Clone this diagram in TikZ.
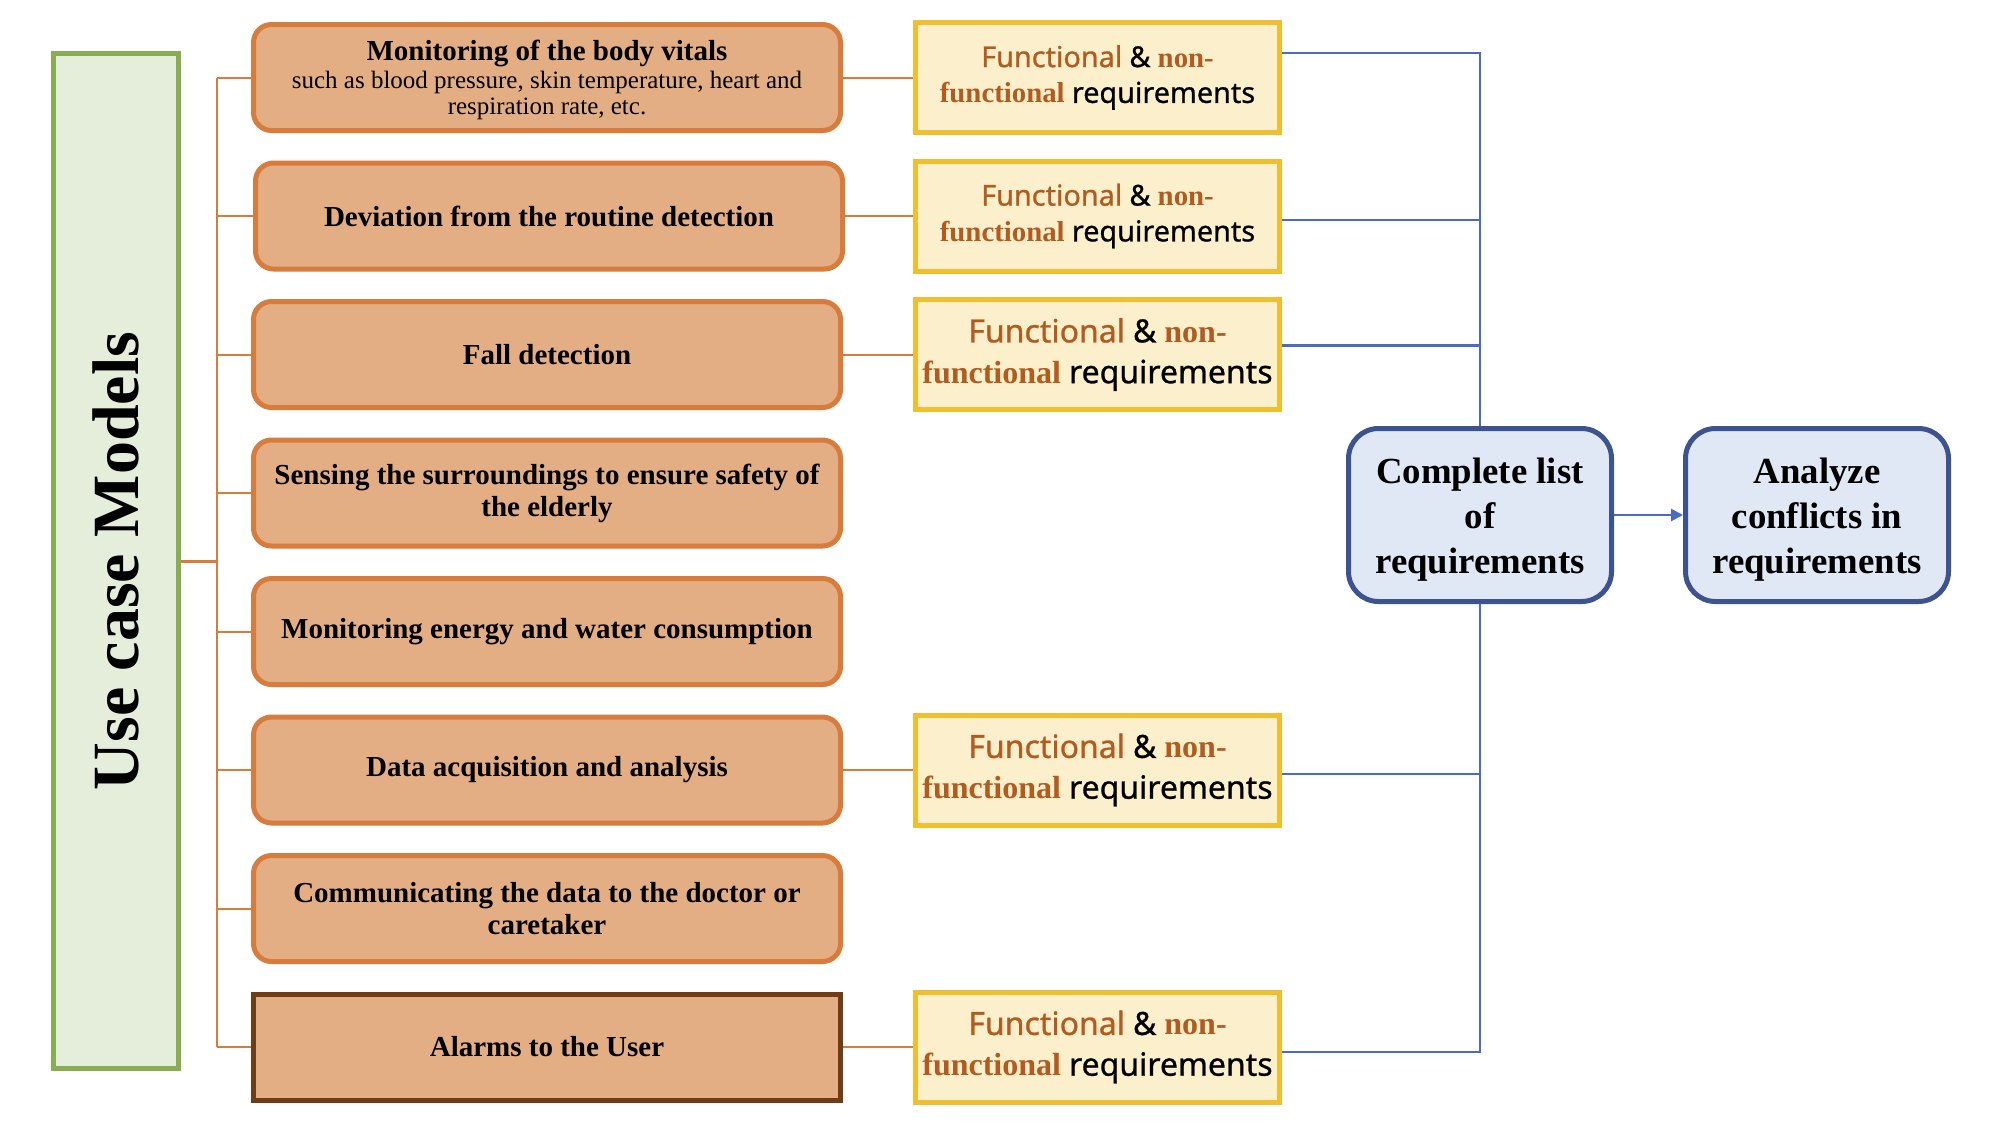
\documentclass[tikz,border=0pt]{standalone}
\usepackage{fontspec}
\setmainfont{Liberation Serif}
\setsansfont{Noto Sans}[FakeBold=0.8]
\usetikzlibrary{arrows.meta,calc}
\definecolor{ofill}{HTML}{E3AE84}
\definecolor{odraw}{HTML}{D77C3C}
\definecolor{bdark}{HTML}{6E3D16}
\definecolor{yfill}{HTML}{FBF0CB}
\definecolor{ydraw}{HTML}{EFBF30}
\definecolor{gfill}{HTML}{E4EEDA}
\definecolor{gdraw}{HTML}{88AD52}
\definecolor{bfill}{HTML}{E1E8F5}
\definecolor{bdraw}{HTML}{3C5390}
\definecolor{bline}{HTML}{4A6BC1}
\definecolor{brn}{HTML}{B35A1F}
\newcommand{\fnftext}{{\sffamily\bfseries\color{brn}Functional} {\sffamily\bfseries\&} {\bfseries\color{brn}non-}\\{\bfseries\color{brn}functional} {\sffamily\bfseries requirements}}
\begin{document}
\begin{tikzpicture}[x=0.5pt,y=-0.5pt,
  obox/.style={draw=odraw, fill=ofill, line width=2.5pt, rounded corners=9pt,
    minimum width=293.5pt, minimum height=53pt, align=center, inner sep=0pt,
    font=\fontsize{14.5}{16}\selectfont\bfseries},
  abox/.style={obox, sharp corners, draw=bdark},
  ybox/.style={draw=ydraw, fill=yfill, line width=2.5pt, minimum width=182pt,
    minimum height=55pt, align=center, inner sep=0pt,
    font=\fontsize{14.4}{17.9}\selectfont},
  ybig/.style={ybox, font=\fontsize{16}{20.4}\selectfont},
  gbox/.style={draw=gdraw, fill=gfill, line width=2.5pt, minimum width=62.5pt,
    minimum height=507.5pt, inner sep=0pt},
  bbox/.style={draw=bdraw, fill=bfill, line width=2.5pt, rounded corners=15pt,
    minimum width=131.5pt, minimum height=86.5pt, align=center, inner sep=0pt,
    font=\fontsize{18.4}{22.3}\selectfont\bfseries},
  oconn/.style={draw=odraw, line width=1pt},
  bconn/.style={draw=bline, line width=1.3pt}
]
\fill[white] (0,0) rectangle (2000,1125);
\useasboundingbox (0,0) rectangle (2000,1125);

% green box
\node[gbox] (g) at (116,561) {};
\node[rotate=90, font=\fontsize{33}{36}\selectfont\bfseries] (gt) at (g.center) {Use case Models};

% orange boxes
\node[obox, font=\fontsize{12.5}{13}\selectfont\mdseries] (o1) at (547,77.5)
  {{\fontsize{14.5}{16}\selectfont\bfseries\rule{0pt}{13pt}Monitoring of the body vitals}\\[1pt]such as blood pressure, skin temperature, heart and\\respiration rate, etc.};
\node[obox] (o2) at (549,216) {Deviation from the routine detection};
\node[obox] (o3) at (547,354.5) {Fall detection};
\node[obox] (o4) at (547,493) {Sensing the surroundings to ensure safety of\\the elderly};
\node[obox] (o5) at (547,631.5) {Monitoring energy and water consumption};
\node[obox] (o6) at (547,770) {Data acquisition and analysis};
\node[obox] (o7) at (547,908.5) {Communicating the data to the doctor or\\caretaker};
\node[abox] (o8) at (547,1047) {Alarms to the User};

% yellow boxes
\node[ybox] (y1) at (1097.5,77.5) {\fnftext};
\node[ybox] (y2) at (1097.5,216) {\fnftext};
\node[ybig] (y3) at (1097.5,354.5) {\fnftext};
\node[ybig] (y6) at (1097.5,770) {\fnftext};
\node[ybig] (y8) at (1097.5,1047) {\fnftext};

% blue boxes
\node[bbox] (cl) at (1480,515) {\rule{0pt}{17.5pt}Complete list\\of\\requirements};
\node[bbox] (an) at (1817,515) {\rule{0pt}{17.5pt}Analyze\\conflicts in\\requirements};

% orange connectors
\coordinate (bt) at (217,77.5);
\coordinate (bb) at (217,1047);
\draw[oconn, line width=1.5pt] (g.east) -- (g.east -| bt);
\draw[oconn] (bt) -- (bb);
\foreach \i in {1,...,8} \draw[oconn] (o\i.west) -- (o\i.west -| bt);
\foreach \i in {1,2,3,6,8} \draw[oconn] (o\i.east) -- (y\i.west);

% blue connectors
\coordinate (b1) at ([yshift=12.25pt]y1.east);
\coordinate (b2) at ([yshift=-2pt]y2.east);
\coordinate (b3) at ([yshift=4.4pt]y3.east);
\coordinate (b6) at ([yshift=-2pt]y6.east);
\coordinate (b8) at ([yshift=-2.5pt]y8.east);
\draw[bconn] (b1) -| (cl.north);
\draw[bconn] (b2) -- (b2 -| cl.north);
\draw[bconn] (b3) -- (b3 -| cl.north);
\draw[bconn] (b8) -| (cl.south);
\draw[bconn] (b6) -- (b6 -| cl.south);
\draw[bconn, -{Triangle[length=6pt,width=6pt]}] (cl.east) -- (an.west);
\end{tikzpicture}
\end{document}
